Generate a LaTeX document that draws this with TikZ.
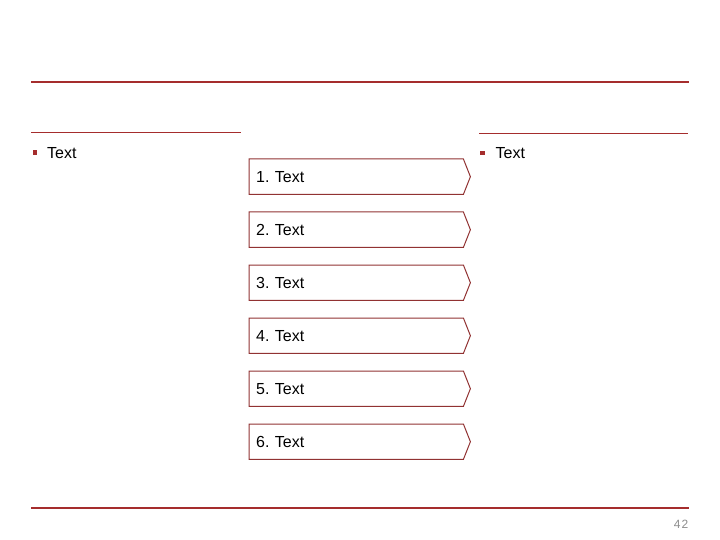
\documentclass[tikz,border=0pt]{standalone}
\usepackage{fontspec}
\setmainfont{Liberation Sans}
\usetikzlibrary{calc}
\frenchspacing
\definecolor{mainred}{RGB}{165,45,45}
\definecolor{boxred}{RGB}{145,50,50}
\definecolor{pagegray}{RGB}{140,140,140}
\tikzset{
  thickrule/.style={draw=mainred, line width=2pt},
  thinrule/.style={draw=mainred, line width=1pt},
  stepbox/.style={minimum width=214pt, minimum height=35pt, inner xsep=7pt, inner ysep=0pt,
    text width=200pt, align=left, anchor=north west, font=\fontsize{16}{19}\selectfont},
  boxline/.style={draw=boxred, line width=1pt, line join=miter},
  bullettext/.style={anchor=base west, inner sep=0pt, font=\fontsize{16}{19}\selectfont},
  bulletsq/.style={fill=mainred, draw=none, minimum size=4.5pt, inner sep=0pt}
}
\begin{document}
\begin{tikzpicture}[x=1pt,y=-1pt]
\useasboundingbox (0,0) rectangle (720,540);
% rules
\coordinate (tl) at (31,82.5);
\coordinate (tr) at (689,82.5);
\draw[thickrule] (tl) -- (tr);
\coordinate (bl) at (31,507.5);
\coordinate (br) at (689,507.5);
\draw[thickrule] (bl) -- (br);
\coordinate (ll1) at (31,132.8);
\coordinate (ll2) at (241,132.8);
\draw[thinrule] (ll1) -- (ll2);
\coordinate (rl1) at (479,133.2);
\coordinate (rl2) at (688,133.2);
\draw[thinrule] (rl1) -- (rl2);
% bullets
\node[bulletsq] (lb) at (34.8,152.4) {};
\node[bullettext] (lt) at (47,158.3) {Text};
\node[bulletsq] (rb) at (482.4,152.8) {};
\node[bullettext] (rt) at (495.5,158.3) {Text};
% boxes
\foreach \i in {1,...,6} {
  \pgfmathsetmacro{\yy}{159+53*(\i-1)}
  \node[stepbox] (b\i) at (249,\yy) {\i. Text};
  \draw[boxline] (b\i.north west) -- (b\i.north east) -- ($(b\i.east)+(7,0)$) -- (b\i.south east) -- (b\i.south west) -- cycle;
}
% page number
\node[anchor=base east, inner sep=0pt, text=pagegray, font=\fontsize{12}{14}\selectfont] (pn) at (688.5,528) {4\kern1pt 2};
\end{tikzpicture}
\end{document}
